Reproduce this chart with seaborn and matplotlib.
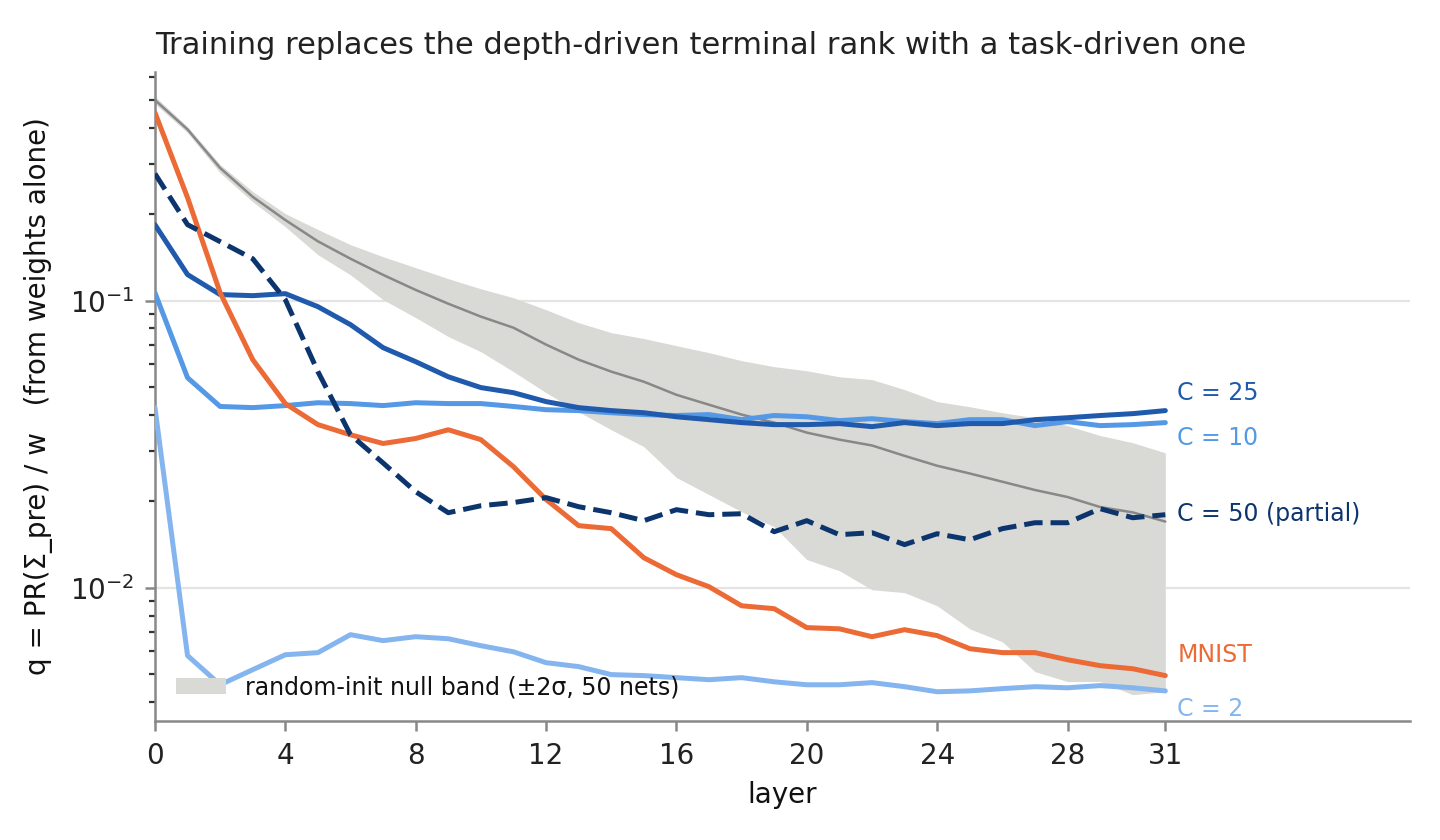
import numpy as np
import pandas as pd
import matplotlib
matplotlib.use("Agg")
import matplotlib.pyplot as plt
import seaborn as sns
from matplotlib.patches import Patch
from matplotlib.ticker import LogLocator, FixedLocator, NullFormatter

layers = list(range(32))

null_mean = [0.500, 0.395, 0.290, 0.230, 0.191, 0.161, 0.140, 0.123, 0.109, 0.0976,
             0.0880, 0.0805, 0.0703, 0.0623, 0.0566, 0.0522, 0.0470, 0.0434, 0.0401, 0.0376,
             0.0347, 0.0328, 0.0313, 0.0288, 0.0266, 0.0250, 0.0234, 0.0219, 0.0207, 0.0191,
             0.0183, 0.0170]
null_upper = [0.515, 0.404, 0.298, 0.240, 0.201, 0.177, 0.1567, 0.1423, 0.1303, 0.1193,
              0.110, 0.1024, 0.0930, 0.0838, 0.0774, 0.0738, 0.0697, 0.0659, 0.0618, 0.0589,
              0.0570, 0.0543, 0.0531, 0.0490, 0.0445, 0.0427, 0.0407, 0.0391, 0.0367, 0.0339,
              0.0320, 0.0295]
null_lower = [0.485, 0.385, 0.279, 0.221, 0.181, 0.1446, 0.123, 0.1008, 0.0873, 0.0750,
              0.0664, 0.0566, 0.0478, 0.0410, 0.0355, 0.0310, 0.0242, 0.0211, 0.0184, 0.0163,
              0.01253, 0.01146, 0.00984, 0.00961, 0.00865, 0.00719, 0.00648, 0.00510, 0.00471, 0.00471,
              0.00424, 0.00434]

mnist = [0.452, 0.2286, 0.1066, 0.0623, 0.0438, 0.0370, 0.0341, 0.0318, 0.0331, 0.0355,
         0.0328, 0.0264, 0.0203, 0.01645, 0.01606, 0.01272, 0.0111, 0.01008, 0.00865, 0.00845,
         0.00726, 0.00719, 0.00675, 0.00714, 0.00681, 0.00613, 0.00594, 0.00594, 0.00561, 0.00535,
         0.00522, 0.00494]
c25 = [0.184, 0.1233, 0.105, 0.1041, 0.1058, 0.0953, 0.0825, 0.0686, 0.0613, 0.0543,
       0.0498, 0.0478, 0.0445, 0.0424, 0.0414, 0.0407, 0.0394, 0.0385, 0.0376, 0.0370,
       0.0370, 0.0373, 0.0364, 0.0376, 0.0367, 0.0373, 0.0373, 0.0385, 0.0391, 0.0398,
       0.0404, 0.0414]
c10 = [0.1066, 0.0539, 0.0428, 0.0424, 0.0431, 0.0441, 0.0438, 0.0431, 0.0441, 0.0438,
       0.0438, 0.0428, 0.0417, 0.0414, 0.0407, 0.0401, 0.0398, 0.0401, 0.0385, 0.0398,
       0.0394, 0.0382, 0.0388, 0.0379, 0.0373, 0.0385, 0.0385, 0.0367, 0.0379, 0.0367,
       0.0370, 0.0376]
c50 = [0.277, 0.184, 0.1606, 0.140, 0.1008, 0.0566, 0.0341, 0.0272, 0.0216, 0.01825,
       0.0193, 0.0198, 0.0206, 0.01915, 0.01825, 0.01712, 0.0187, 0.01796, 0.0181, 0.01567,
       0.01712, 0.0153, 0.01555, 0.01413, 0.01542, 0.01469, 0.01606, 0.01684, 0.01684, 0.01885,
       0.01753, 0.01796]
c2 = [0.0424, 0.0058, 0.00459, 0.00518, 0.00584, 0.00594, 0.00686, 0.00654, 0.00675, 0.00664,
      0.00628, 0.00598, 0.00548, 0.00531, 0.00498, 0.00494, 0.00486, 0.00478, 0.00486, 0.0047,
      0.00459, 0.00459, 0.00467, 0.00452, 0.00434, 0.00437, 0.00445, 0.00452, 0.00448, 0.00456,
      0.00448, 0.00437]

series_names = ["C = 2", "C = 10", "C = 25", "MNIST", "C = 50 (partial)"]
series_values = [c2, c10, c25, mnist, c50]
series_colors = ["#85b5ef", "#5599e6", "#1f5aad", "#ec6a35", "#0c356e"]
series_styles = ["-", "-", "-", "-", "--"]
# end-label vertical positions (data units, de-overlapped)
label_y = [0.00379, 0.0331, 0.0478, 0.00585, 0.0181]

xticks = [0, 4, 8, 12, 16, 20, 24, 28, 31]

sns.set_style("ticks")
plt.rcParams["font.family"] = ["DejaVu Sans"]

fig = plt.figure(figsize=(7.2, 4.2), dpi=200)
ax = fig.add_axes([0.1076, 0.142, 0.8714, 0.772])

band_color = "#d9d9d5"
ax.fill_between(layers, null_lower, null_upper, color=band_color, lw=0, zorder=1)
sns.lineplot(x=layers, y=null_mean, ax=ax, color="#888888", lw=0.9, zorder=2, legend=False)

for name, vals, col, ls in zip(series_names, series_values, series_colors, series_styles):
    df = pd.DataFrame({"layer": layers, "q": vals})
    sns.lineplot(data=df, x="layer", y="q", ax=ax, color=col, lw=1.8,
                 linestyle=ls, zorder=3, legend=False)

for name, ly, col in zip(series_names, label_y, series_colors):
    ax.text(31.37, ly, name, color=col, fontsize=8.5, va="center", ha="left")

ax.set_yscale("log")
ax.set_xlim(0, 38.5)
ax.set_ylim(0.00344, 0.625)
ax.xaxis.set_major_locator(FixedLocator(xticks))
ax.set_xticklabels([str(t) for t in xticks])
ax.yaxis.set_major_locator(LogLocator(base=10, numticks=10))
ax.yaxis.set_minor_locator(LogLocator(base=10, subs=np.arange(2, 10), numticks=10))
ax.yaxis.set_minor_formatter(NullFormatter())

ax.grid(axis="y", which="major", color="#e4e4e4", lw=0.8, zorder=0)
ax.set_axisbelow(True)

for s in ["top", "right"]:
    ax.spines[s].set_visible(False)
for s in ["left", "bottom"]:
    ax.spines[s].set_color("#888888")
    ax.spines[s].set_linewidth(0.9)

ax.tick_params(axis="both", which="major", labelsize=10, colors="#888888",
               labelcolor="#222222", length=3.5, width=0.9, pad=4)
ax.tick_params(axis="y", which="minor", length=2.2, width=0.8, colors="#333333")

ax.set_xlabel("layer", fontsize=10, color="#111111", labelpad=4)
ax.set_ylabel("q = PR(Σ_pre) / w   (from weights alone)", fontsize=10, color="#111111",
              labelpad=6)
ax.set_title("Training replaces the depth-driven terminal rank with a task-driven one",
             loc="left", fontsize=11, color="#222222", pad=6.5)

handle = Patch(facecolor=band_color, edgecolor="none")
ax.legend([handle], ["random-init null band (±2σ, 50 nets)"], loc="lower left",
          frameon=False, fontsize=8.5, handlelength=2.1, handletextpad=0.8,
          borderaxespad=0.5, labelcolor="#111111")

fig.savefig("out.png", dpi=200)
